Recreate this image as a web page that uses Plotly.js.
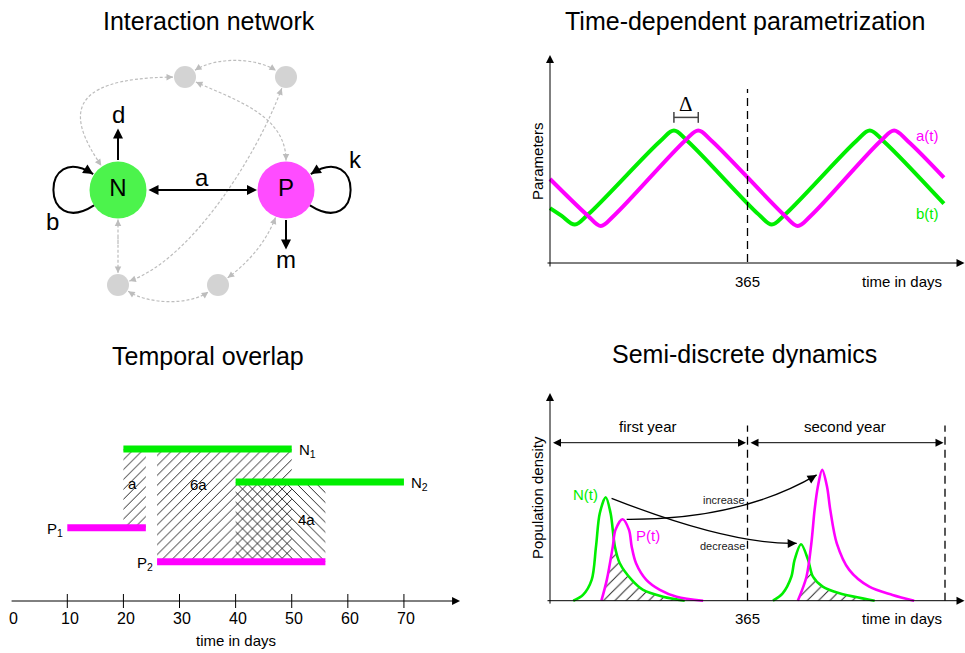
<!DOCTYPE html>
<html><head><meta charset="utf-8">
<script src="https://cdn.plot.ly/plotly-3.0.1.min.js"></script>
<style>html,body{margin:0;padding:0;background:#fff}#chart{width:965px;height:653px}</style>
</head><body><div id="chart"></div>
<script>
// ================= DATA =================
// Panel A: interaction network (schematic node layout in panel units)
const nodeIds   = ['N', 'P', 'g1', 'g2', 'g3', 'g4'];
const nodeX     = [118, 286, 185, 286, 118, 218];
const nodeY     = [190, 190, 77, 77, 285, 285];
const nodeText  = ['N', 'P', '', '', '', ''];
const nodeKind  = ['host', 'parasite', 'other', 'other', 'other', 'other'];
// indirect (dashed) interactions: endpoints + Bezier handles
const linkFrom = ['g1', 'g1', 'g1', 'g2', 'N', 'g3', 'P'];
const linkTo   = ['N', 'g2', 'P', 'g3', 'g3', 'g4', 'g4'];
const linkC1   = [[60, 78], [215, 57], [235, 100], [255, 160], [118, 285], [150, 305], [265, 245]];
const linkC2   = [[70, 120], [255, 57], [286, 115], [190, 260], [118, 190], [190, 305], [245, 265]];
// self-regulation loops
const loopNode  = ['N', 'P'];
const loopC1    = [[40, 240], [364, 240]];
const loopC2    = [[40, 140], [364, 140]];
const loopLabel = ['b', 'k'];
// outflow rates
const outNode  = ['N', 'P'];
const outDir   = [[0, -1], [0, 1]];
const outLabel = ['d', 'm'];

// Panel B: time-dependent parameters (day, value)
const bDays = [0, 21, 46, 71, 204, 229, 254, 385, 410, 435, 566, 591, 616, 728];
const bVals = [2.64, 2.28, 1.85, 2.35, 5.87, 6.37, 5.87, 2.35, 1.85, 2.35, 5.87, 6.37, 5.87, 2.85];
const aDays = [0, 69, 94, 119, 249, 274, 299, 433, 458, 483, 611, 636, 661, 728];
const aVals = [4.04, 2.30, 1.78, 2.30, 5.87, 6.37, 5.87, 2.30, 1.78, 2.30, 5.87, 6.37, 5.87, 4.11];

// Panel C: temporal overlap (days)
const hostNames = ['N<sub>1</sub>', 'N<sub>2</sub>'];
const hostStart = [20, 40];
const hostEnd   = [50, 70];
const parNames  = ['P<sub>1</sub>', 'P<sub>2</sub>'];
const parStart  = [10, 26];
const parEnd    = [24, 56];
const dayTicks  = [0, 10, 20, 30, 40, 50, 60, 70];

// Panel D: semi-discrete dynamics (day, density)
const n1Days = [43, 61, 77, 85, 92, 103, 112, 120, 129, 151, 172, 209, 249];
const n1Vals = [0, 0.29, 1.04, 2.70, 4.37, 5.17, 4.37, 2.70, 1.87, 1.04, 0.54, 0.20, 0];
const p1Days = [95, 105, 116, 121, 134, 146, 151, 159, 178, 203, 234, 283];
const p1Vals = [0, 1.04, 2.70, 3.54, 4.07, 3.54, 2.70, 1.87, 1.04, 0.54, 0.20, 0];
const n2Days = [412, 430, 446, 452, 464, 477, 486, 504, 535, 600];
const n2Vals = [0, 0.37, 1.20, 2.04, 2.82, 2.04, 1.20, 0.70, 0.37, 0];
const p2Days = [458, 474, 483, 489, 495, 503, 512, 518, 530, 553, 590, 633, 673];
const p2Vals = [0, 1.20, 2.87, 4.54, 5.70, 6.54, 5.70, 4.54, 2.87, 1.54, 0.70, 0.29, 0];
const yearEnds = [365, 730];

// ================= STYLE / LAYOUT =================
const W = 965, H = 653;
const FONT = 'Liberation Sans, Arial, Helvetica, sans-serif';
const GREEN = '#00ee00', MAGENTA = '#ff00ff', NODEGRAY = '#c0c0c0', LINKGRAY = '#bdbdbd';
const fx = px => px / W, fy = py => 1 - py / H;
function xAx(a, b, px0, v0, k) { return {domain: [fx(a), fx(b)], range: [v0 + (a - px0) / k, v0 + (b - px0) / k], visible: false, fixedrange: true}; }
function yAx(top, bot, py0, v0, k) { return {domain: [fy(bot), fy(top)], range: [v0 + (py0 - bot) / k, v0 + (py0 - top) / k], visible: false, fixedrange: true}; }
const KX = 197.5 / 365;       // px per day, panels B and D
const KYB = 20.8, KYD = 20;   // px per unit

const traces = [], shapes = [], ann = [];
function text(x, y, t, xr, yr, size, color, extra) {
  return Object.assign({x: x, y: y, text: t, xref: xr, yref: yr, showarrow: false,
    font: {family: FONT, size: size, color: color || '#000'}, xanchor: 'center', yanchor: 'middle'}, extra || {});
}
function arrow(tip, tail, xr, yr, opt) {
  return Object.assign({x: tip[0], y: tip[1], ax: tail[0], ay: tail[1], xref: xr, yref: yr, axref: xr, ayref: yr,
    text: '', showarrow: true, arrowhead: 2, arrowsize: 1, arrowwidth: 1, arrowcolor: '#000', standoff: 0, startstandoff: 0}, opt || {});
}

// ---- titles
[['Interaction network', 209, 21], ['Time-dependent parametrization', 745, 21],
 ['Temporal overlap', 208, 356], ['Semi-discrete dynamics', 744, 354]].forEach(t =>
  ann.push(text(fx(t[1]), fy(t[2]), t[0], 'paper', 'paper', 25)));

// ================= PANEL A =================
const idx = id => nodeIds.indexOf(id);
const center = id => [nodeX[idx(id)], nodeY[idx(id)]];
const radius = id => nodeKind[idx(id)] === 'other' ? 11 : 28.5;
function edge(id, toward, gap) {
  const c = center(id), dx = toward[0] - c[0], dy = toward[1] - c[1], L = Math.hypot(dx, dy), r = radius(id) + (gap || 0);
  return [c[0] + r * dx / L, c[1] + r * dy / L];
}
function back(p, toward, len) {
  const dx = toward[0] - p[0], dy = toward[1] - p[1], L = Math.hypot(dx, dy);
  return [p[0] + len * dx / L, p[1] + len * dy / L];
}
const pt = p => p[0].toFixed(2) + ',' + p[1].toFixed(2);

linkFrom.forEach((f, k) => {
  const c1 = linkC1[k], c2 = linkC2[k];
  const p0 = edge(f, c1, 1), p3 = edge(linkTo[k], c2, 1);
  shapes.push({type: 'path', xref: 'x', yref: 'y', layer: 'below',
    path: 'M' + pt(p0) + ' C' + pt(c1) + ' ' + pt(c2) + ' ' + pt(p3),
    line: {color: LINKGRAY, width: 1.2, dash: '3px,2px'}});
  ann.push(arrow(p0, back(p0, c1, 6), 'x', 'y', {arrowcolor: LINKGRAY, arrowsize: 1.3}));
  ann.push(arrow(p3, back(p3, c2, 6), 'x', 'y', {arrowcolor: LINKGRAY, arrowsize: 1.3}));
});
const loopLabelPos = [[52, 221], [355, 159]];
loopNode.forEach((n, k) => {
  const c1 = loopC1[k], c2 = loopC2[k];
  const p0 = edge(n, c1, 0), p3 = edge(n, c2, 1);
  shapes.push({type: 'path', xref: 'x', yref: 'y', path: 'M' + pt(p0) + ' C' + pt(c1) + ' ' + pt(c2) + ' ' + pt(p3),
    line: {color: '#000', width: 2}});
  ann.push(arrow(p3, back(p3, c2, 9), 'x', 'y', {arrowwidth: 2, arrowsize: 1}));
  ann.push(text(loopLabelPos[k][0], loopLabelPos[k][1], loopLabel[k], 'x', 'y', 24));
});
// interaction a (N <-> P)
{
  const t1 = edge('P', center('N'), 0.5), t0 = edge('N', center('P'), 0.5);
  ann.push(arrow(t1, t0, 'x', 'y', {arrowwidth: 2, arrowsize: 1, arrowside: 'end+start', startarrowhead: 2, startarrowsize: 1}));
  ann.push(text((t0[0] + t1[0]) / 2, 177, 'a', 'x', 'y', 24));
}
const outLen = [33, 31], outLabelGap = [14, 10];
outNode.forEach((n, k) => {
  const c = center(n), d = outDir[k];
  const tail = edge(n, [c[0] + d[0], c[1] + d[1]], 0);
  const tip = [tail[0] + d[0] * outLen[k], tail[1] + d[1] * outLen[k]];
  ann.push(arrow(tip, tail, 'x', 'y', {arrowwidth: 2, arrowsize: 1}));
  ann.push(text(tip[0], tip[1] + d[1] * outLabelGap[k], outLabel[k], 'x', 'y', 24));
});
traces.push({x: nodeX, y: nodeY, text: nodeText, xaxis: 'x', yaxis: 'y', mode: 'markers+text', hoverinfo: 'skip',
  textposition: 'middle center', textfont: {family: FONT, size: 24, color: '#000'},
  marker: {size: nodeKind.map(k => k === 'other' ? 22 : 57),
    color: nodeKind.map(k => k === 'host' ? GREEN : k === 'parasite' ? MAGENTA : NODEGRAY), line: {width: 0}}});

// ================= PANEL B =================
traces.push({x: bDays, y: bVals, xaxis: 'x2', yaxis: 'y2', mode: 'lines', hoverinfo: 'skip',
  line: {color: GREEN, width: 4, shape: 'spline', smoothing: 1}});
traces.push({x: aDays, y: aVals, xaxis: 'x2', yaxis: 'y2', mode: 'lines', hoverinfo: 'skip',
  line: {color: MAGENTA, width: 4, shape: 'spline', smoothing: 1}});
ann.push(arrow([766, 0], [-7.4, 0], 'x2', 'y2', {arrowsize: 1.6}));
ann.push(arrow([0, 10.0], [0, -0.24], 'x2', 'y2', {arrowsize: 1.6}));
shapes.push({type: 'line', xref: 'x2', yref: 'y2', x0: 365, x1: 365, y0: 0.05, y1: 8.37, line: {color: '#000', width: 1.3, dash: '8px,5px'}});
function peakDay(days, vals, lim) {
  let best = -1, bd = 0;
  days.forEach((d, i) => { if (d < lim && vals[i] > best) { best = vals[i]; bd = d; } });
  return bd;
}
{
  const pb = peakDay(bDays, bVals, 365), pa = peakDay(aDays, aVals, 365), yb = 7.0;
  const st = {color: '#444', width: 1.5};
  shapes.push({type: 'line', xref: 'x2', yref: 'y2', x0: pb, x1: pa, y0: yb, y1: yb, line: st});
  shapes.push({type: 'line', xref: 'x2', yref: 'y2', x0: pb, x1: pb, y0: yb - 0.26, y1: yb + 0.26, line: st});
  shapes.push({type: 'line', xref: 'x2', yref: 'y2', x0: pa, x1: pa, y0: yb - 0.26, y1: yb + 0.26, line: st});
  ann.push(text((pb + pa) / 2, 7.62, '\u0394', 'x2', 'y2', 20, '#000', {font: {family: 'Liberation Serif, DejaVu Serif, serif', size: 21, color: '#000'}}));
}
ann.push(text(697, 6.15, 'a(t)', 'x2', 'y2', 15, MAGENTA));
ann.push(text(697, 2.39, 'b(t)', 'x2', 'y2', 15, GREEN));
ann.push(text(365, -0.87, '365', 'x2', 'y2', 15));
ann.push(text(650, -0.87, 'time in days', 'x2', 'y2', 15));
ann.push(text(-24, 4.9, 'Parameters', 'x2', 'y2', 15, '#000', {textangle: -90}));

// ================= PANEL C =================
const hostRow = [15.2, 11.9], parRow = [7.33, 3.93];
const hatchShape = ['/', '\\'];
const overlaps = [];
hostStart.forEach((hs, i) => parStart.forEach((ps, j) => {
  const s = Math.max(hs, ps), e = Math.min(hostEnd[i], parEnd[j]);
  if (e > s) overlaps.push({i: i, j: j, s: s, e: e});
}));
overlaps.forEach(o => {
  traces.push({x: [o.s, o.e, o.e, o.s, o.s], y: [hostRow[o.i], hostRow[o.i], parRow[o.j], parRow[o.j], hostRow[o.i]],
    xaxis: 'x3', yaxis: 'y3', mode: 'lines', fill: 'toself', hoverinfo: 'skip', line: {width: 0, color: 'rgba(0,0,0,0)'},
    fillcolor: 'rgba(0,0,0,0)', fillpattern: {shape: hatchShape[o.i], fgcolor: '#222', bgcolor: 'rgba(0,0,0,0)', size: 7, solidity: 0.14}});
});
const unit = Math.min.apply(null, overlaps.map(o => o.e - o.s));
const ovLabelPos = [[21.6, 11.75], [33.3, 11.7], [52.6, 8.2]];
overlaps.forEach((o, k) => {
  const r = Math.round((o.e - o.s) / unit);
  ann.push(text(ovLabelPos[k][0], ovLabelPos[k][1], (r === 1 ? '' : r) + 'a', 'x3', 'y3', 15));
});
hostStart.forEach((s, i) => {
  traces.push({x: [s, hostEnd[i]], y: [hostRow[i], hostRow[i]], xaxis: 'x3', yaxis: 'y3', mode: 'lines', hoverinfo: 'skip', line: {color: GREEN, width: 7}});
  ann.push(text(hostEnd[i], hostRow[i] - 0.15, hostNames[i], 'x3', 'y3', 15, '#000', {xanchor: 'left', xshift: 5}));
});
parStart.forEach((s, j) => {
  traces.push({x: [s, parEnd[j]], y: [parRow[j], parRow[j]], xaxis: 'x3', yaxis: 'y3', mode: 'lines', hoverinfo: 'skip', line: {color: MAGENTA, width: 7}});
  ann.push(text(s, parRow[j] - 0.15, parNames[j], 'x3', 'y3', 15, '#000', {xanchor: 'right', xshift: -2}));
});
ann.push(arrow([80, 0], [-0.2, 0], 'x3', 'y3', {arrowsize: 1.6}));
const tickMarks = dayTicks.filter(d => d > 0);
traces.push({x: tickMarks, y: tickMarks.map(() => 0), xaxis: 'x3', yaxis: 'y3', mode: 'markers', hoverinfo: 'skip',
  marker: {symbol: 'line-ns', size: 10, color: '#000', line: {width: 1, color: '#000'}}});
dayTicks.forEach(d => ann.push(text(d + 0.4, -1.7, String(d), 'x3', 'y3', 16)));
ann.push(text(40, -3.9, 'time in days', 'x3', 'y3', 15));

// ================= PANEL D =================
function interp(xs, ys, x) {
  if (x <= xs[0] || x >= xs[xs.length - 1]) return 0;
  for (let i = 1; i < xs.length; i++) if (x <= xs[i]) return ys[i - 1] + (ys[i] - ys[i - 1]) * (x - xs[i - 1]) / (xs[i] - xs[i - 1]);
  return 0;
}
function overlapPoly(nd, nv, pd, pv) {
  const lo = Math.max(nd[0], pd[0]), hi = Math.min(nd[nd.length - 1], pd[pd.length - 1]);
  let ds = Array.from(new Set(nd.concat(pd).filter(d => d >= lo && d <= hi))).sort((a, b) => a - b);
  const out = [];
  for (let k = 0; k < ds.length; k++) {
    if (k > 0) {
      const a = ds[k - 1], b = ds[k];
      const fa = interp(nd, nv, a) - interp(pd, pv, a), fb = interp(nd, nv, b) - interp(pd, pv, b);
      if (fa * fb < 0) { const c = a + (b - a) * fa / (fa - fb); out.push(c); }
    }
    out.push(ds[k]);
  }
  const xs = [lo].concat(out, [hi]);
  const ys = xs.map((d, k) => (k === 0 || k === xs.length - 1) ? 0 : Math.min(interp(nd, nv, d), interp(pd, pv, d)));
  return {x: xs, y: ys};
}
[[n1Days, n1Vals, p1Days, p1Vals], [n2Days, n2Vals, p2Days, p2Vals]].forEach(s => {
  const poly = overlapPoly(s[0], s[1], s[2], s[3]);
  traces.push({x: poly.x, y: poly.y, xaxis: 'x4', yaxis: 'y4', mode: 'lines', fill: 'toself', hoverinfo: 'skip',
    line: {width: 0, color: 'rgba(0,0,0,0)'}, fillcolor: 'rgba(0,0,0,0)',
    fillpattern: {shape: '/', fgcolor: '#222', bgcolor: 'rgba(0,0,0,0)', size: 8, solidity: 0.12}});
});
[[n1Days, n1Vals, GREEN], [n2Days, n2Vals, GREEN], [p1Days, p1Vals, MAGENTA], [p2Days, p2Vals, MAGENTA]].forEach(s => {
  traces.push({x: s[0], y: s[1], xaxis: 'x4', yaxis: 'y4', mode: 'lines', hoverinfo: 'skip',
    line: {color: s[2], width: 2.6, shape: 'spline', smoothing: 0.9}});
});
ann.push(arrow([766, 0], [-7.4, 0], 'x4', 'y4', {arrowsize: 1.6}));
ann.push(arrow([0, 10.39], [0, -0.22], 'x4', 'y4', {arrowsize: 1.6}));
yearEnds.forEach(d => shapes.push({type: 'line', xref: 'x4', yref: 'y4', x0: d, x1: d, y0: 0, y1: 8.76,
  line: {color: '#000', width: 1.3, dash: '8px,5px'}}));
const yearNames = ['first year', 'second year'];
yearEnds.forEach((d, k) => {
  const s = k === 0 ? 0 : yearEnds[k - 1];
  ann.push(arrow([d, 7.9], [s, 7.9], 'x4', 'y4', {arrowsize: 1.6, arrowside: 'end+start', startarrowhead: 2, startarrowsize: 1.6, standoff: 1.5, startstandoff: 1.5}));
  ann.push(text((s + d) / 2 - 1.5, 8.69, yearNames[k], 'x4', 'y4', 15));
});
// curved carry-over arrows (quadratic), arrowhead along end tangent
function curvedArrow(p0, c, p1, label, lpos) {
  shapes.push({type: 'path', xref: 'x4', yref: 'y4', path: 'M' + pt(p0) + ' Q' + pt(c) + ' ' + pt(p1), line: {color: '#000', width: 1.3}});
  const dxp = (c[0] - p1[0]) * KX, dyp = (c[1] - p1[1]) * KYD, L = Math.hypot(dxp, dyp);
  const tail = [p1[0] + 9 * dxp / L / KX, p1[1] + 9 * dyp / L / KYD];
  ann.push(arrow(p1, tail, 'x4', 'y4', {arrowsize: 1.5, arrowwidth: 1.2}));
  ann.push(text(lpos[0], lpos[1], label, 'x4', 'y4', 11, '#222'));
}
curvedArrow([113.8, 5.12], [332.6, 2.785], [455.9, 2.87], 'decrease', [319, 2.75]);
curvedArrow([141.7, 4.07], [351.1, 4.035], [492.8, 6.285], 'increase', [321, 5.03]);
ann.push(text(66.5, 5.29, 'N(t)', 'x4', 'y4', 15, GREEN));
ann.push(text(180.5, 3.28, 'P(t)', 'x4', 'y4', 15, MAGENTA));
ann.push(text(365, -0.87, '365', 'x4', 'y4', 15));
ann.push(text(650, -0.87, 'time in days', 'x4', 'y4', 15));
ann.push(text(-24, 5.13, 'Population density', 'x4', 'y4', 15, '#000', {textangle: -90}));

const layout = {
  width: W, height: H, margin: {l: 0, r: 0, t: 0, b: 0}, paper_bgcolor: '#fff', plot_bgcolor: 'rgba(0,0,0,0)',
  showlegend: false, hovermode: false, font: {family: FONT},
  xaxis: Object.assign(xAx(0, 420, 0, 0, 1), {anchor: 'y'}),
  yaxis: {domain: [fy(320), fy(30)], range: [320, 30], visible: false, fixedrange: true, anchor: 'x'},
  xaxis2: Object.assign(xAx(530, 965, 550, 0, KX), {anchor: 'y2'}),
  yaxis2: Object.assign(yAx(40, 295, 263, 0, KYB), {anchor: 'x2'}),
  xaxis3: Object.assign(xAx(0, 482.5, 11.2, 0, 5.6105), {anchor: 'y3'}),
  yaxis3: Object.assign(yAx(395, 652, 601, 0, 10), {anchor: 'x3'}),
  xaxis4: Object.assign(xAx(530, 965, 550, 0, KX), {anchor: 'y4'}),
  yaxis4: Object.assign(yAx(380, 635, 600.7, 0, KYD), {anchor: 'x4'}),
  shapes: shapes, annotations: ann
};
Plotly.newPlot('chart', traces, layout, {displayModeBar: false, staticPlot: true});
</script>
</body></html>
